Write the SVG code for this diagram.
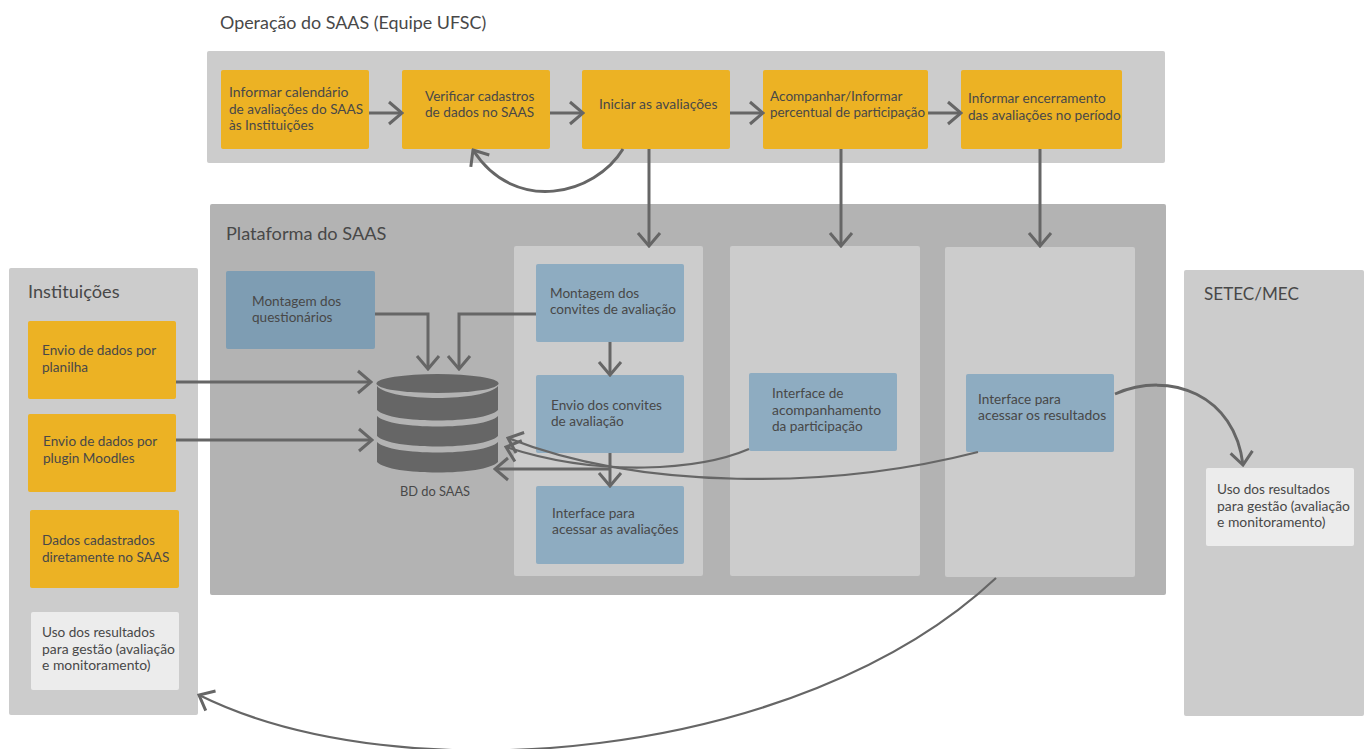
<svg xmlns="http://www.w3.org/2000/svg" width="1364" height="749" viewBox="0 0 1364 749">
<style>
text{font-family:Lato,"Liberation Sans",sans-serif;fill:#484848;font-size:13.6px}
.h{font-size:17.9px}
.y{fill:#ecb224}.b{fill:#8eacc1}.l{fill:#cccccc}.w{fill:#ececec}
rect{rx:2px}
.c{fill:none;stroke:#666;stroke-width:3}
.t{stroke-width:2.2}
</style>
<defs><marker id="a" viewBox="0 0 17 26" refX="15" refY="13" markerWidth="17" markerHeight="26" markerUnits="userSpaceOnUse" orient="auto"><path d="M2 2L15 13L2 24" fill="none" stroke="#666" stroke-width="3"/></marker></defs>
<rect width="1364" height="749" fill="#fff" style="rx:0"/>
<g id="operacao"><rect x="207" y="51" width="958" height="112" fill="#cccccc"/><text class="h" x="220" y="29">Operação do SAAS (Equipe UFSC)</text></g>
<g id="plataforma"><rect x="210" y="204" width="956" height="391" fill="#b3b3b3"/><text class="h" x="226" y="240" style="font-size:18.2px">Plataforma do SAAS</text></g>
<g id="instituicoes"><rect x="9" y="268" width="189" height="447" class="l"/><text class="h" x="28" y="298" style="font-size:18.2px">Instituições</text></g>
<g id="setec"><rect x="1184" y="270" width="180" height="446" class="l"/><text class="h" x="1204" y="300" style="font-size:17.1px">SETEC/MEC</text></g>
<rect id="col1" x="514" y="246" width="189" height="330" class="l"/>
<rect id="col2" x="730" y="246" width="190" height="330" class="l"/>
<rect id="col3" x="945" y="247" width="190" height="330" class="l"/>
<g id="n1"><rect x="221" y="70" width="148" height="79" class="y"/><text x="229" y="97" style="font-size:14px">Informar calendário</text><text x="229" y="114">de avaliações do SAAS</text><text x="229" y="130">às Instituições</text></g>
<g id="n2"><rect x="402" y="70" width="148" height="79" class="y"/><text x="425" y="101">Verificar cadastros</text><text x="425" y="117">de dados no SAAS</text></g>
<g id="n3"><rect x="582" y="70" width="148" height="79" class="y"/><text x="599" y="109" style="font-size:13.9px">Iniciar as avaliações</text></g>
<g id="n4"><rect x="763" y="70" width="165" height="79" class="y"/><text x="770" y="101">Acompanhar/Informar</text><text x="770" y="117" style="font-size:13.4px">percentual de participação</text></g>
<g id="n5"><rect x="961" y="70" width="161" height="79" class="y"/><text x="968" y="103">Informar encerramento</text><text x="968" y="120">das avaliações no período</text></g>
<g id="q"><rect x="226" y="271" width="149" height="78" fill="#7e9db3"/><text x="252" y="306">Montagem dos</text><text x="252" y="322">questionários</text></g>
<g id="c1"><rect x="536" y="264" width="148" height="78" class="b"/><text x="550" y="298">Montagem dos</text><text x="550" y="314">convites de avaliação</text></g>
<g id="c2"><rect x="536" y="375" width="148" height="78" class="b"/><text x="551" y="410">Envio dos convites</text><text x="551" y="426">de avaliação</text></g>
<g id="c3"><rect x="536" y="486" width="148" height="78" class="b"/><text x="552" y="518">Interface para</text><text x="552" y="534" style="font-size:13.9px">acessar as avaliações</text></g>
<g id="i2"><rect x="749" y="373" width="148" height="78" class="b"/><text x="772" y="398">Interface de</text><text x="772" y="415" style="font-size:13.9px">acompanhamento</text><text x="772" y="431">da participação</text></g>
<g id="i3"><rect x="966" y="374" width="148" height="78" class="b"/><text x="978" y="404">Interface para</text><text x="978" y="420" style="font-size:13.9px">acessar os resultados</text></g>
<g id="a1"><rect x="28" y="321" width="148" height="78" class="y"/><text x="42" y="355">Envio de dados por</text><text x="42" y="372">planilha</text></g>
<g id="a2"><rect x="28" y="414" width="148" height="78" class="y"/><text x="43" y="446">Envio de dados por</text><text x="43" y="463">plugin Moodles</text></g>
<g id="a3"><rect x="30" y="510" width="149" height="78" class="y"/><text x="42" y="545">Dados cadastrados</text><text x="42" y="562">diretamente no SAAS</text></g>
<g id="a4"><rect x="31" y="612" width="148" height="78" class="w"/><text x="42" y="637">Uso dos resultados</text><text x="42" y="654" style="font-size:13.9px">para gestão (avaliação</text><text x="42" y="670" style="font-size:13.9px">e monitoramento)</text></g>
<g id="s1"><rect x="1206" y="468" width="148" height="78" class="w"/><text x="1217" y="494">Uso dos resultados</text><text x="1217" y="511" style="font-size:13.9px">para gestão (avaliação</text><text x="1217" y="527" style="font-size:13.9px">e monitoramento)</text></g>
<g id="bd"><ellipse cx="437.5" cy="383.5" rx="61" ry="9.5" fill="#666"/><path d="M377 386C390 402 485 402 498 386V410C485 424 390 424 377 410Z" fill="#666"/><path d="M377 416C390 430 485 430 498 416V436C485 450 390 450 377 436Z" fill="#666"/><path d="M377 442C390 456 485 456 498 442V462C485 476 390 476 377 462Z" fill="#666"/><text x="400" y="496" style="font-size:12.8px">BD do SAAS</text></g>
<g id="connectors">
<path class="c" marker-end="url(#a)" d="M369 113H402"/><path class="c" marker-end="url(#a)" d="M550 113H583"/><path class="c" marker-end="url(#a)" d="M730 113H763"/><path class="c" marker-end="url(#a)" d="M928 113H961"/>
<path class="c" marker-end="url(#a)" d="M623 149C595 195 515 215 473 150"/>
<path class="c" marker-end="url(#a)" d="M649 149V246"/><path class="c" marker-end="url(#a)" d="M841 149V246"/><path class="c" marker-end="url(#a)" d="M1040 149V246"/>
<path class="c" marker-end="url(#a)" d="M375 314H428V369"/><path class="c" marker-end="url(#a)" d="M536 314H459V369"/>
<path class="c" marker-end="url(#a)" d="M610 342V375"/><path class="c" marker-end="url(#a)" d="M610 453V486"/>
<path class="c" marker-end="url(#a)" d="M176 382H371"/><path class="c" marker-end="url(#a)" d="M176 440H372"/>
<path class="c" marker-end="url(#a)" d="M610 469H495"/>
<path class="c t" marker-end="url(#a)" d="M749 449C700 470 600 478 506 447"/>
<path class="c t" marker-end="url(#a)" d="M978 452C830 490 640 490 508 438"/>
<path class="c" marker-end="url(#a)" d="M1115 394C1170 370 1235 395 1243 465"/>
<path class="c t" marker-end="url(#a)" d="M996 578C800 762 400 795 199 695"/>
</g>
</svg>
